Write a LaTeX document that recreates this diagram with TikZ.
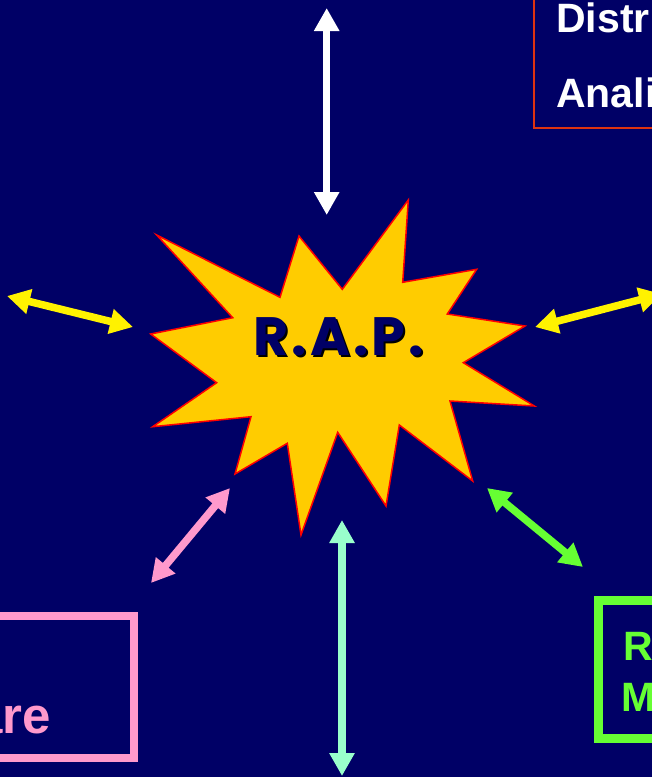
\documentclass[tikz,border=0pt]{standalone}
\usepackage{fontspec}
\setmainfont{Liberation Sans}
\newfontfamily\rapfont[LetterSpace=6]{Poppins}
\usetikzlibrary{arrows.meta}
\definecolor{navy}{RGB}{0,0,102}
\definecolor{starfill}{RGB}{255,204,0}
\definecolor{pinkline}{RGB}{255,153,204}
\definecolor{mintline}{RGB}{153,255,204}
\definecolor{greenline}{RGB}{102,255,51}
\definecolor{redbox}{RGB}{221,51,17}
\tikzset{
  link/.style={line width=7.5pt,{Triangle[width=24pt,length=23pt]}-{Triangle[width=24pt,length=23pt]}},
  label/.style={font=\bfseries\fontsize{41}{43}\selectfont,inner sep=0pt},
  raptext/.style={font=\rapfont\bfseries\fontsize{54}{56}\selectfont,inner sep=0pt}
}
\begin{document}
\begin{tikzpicture}[x=1pt,y=-1pt]
  \useasboundingbox (0,0) rectangle (652,777);
  \clip (0,0) rectangle (652,777);
  \fill[navy] (0,0) rectangle (652,777);

  % the star
  \draw[fill=starfill,draw=red,line width=1.5pt,line join=miter]
    (156.7,235) -- (280,297.3) -- (299,236) -- (342.3,289.3) -- (408.3,200)
    -- (402.7,282.3) -- (476.7,269.3) -- (447.3,314) -- (525,326)
    -- (463.3,362.7) -- (534.3,406) -- (450,401) -- (472.7,481)
    -- (399.3,425) -- (386,506) -- (337.7,432.3) -- (301,535)
    -- (287.3,443.3) -- (235,474) -- (251,416.7) -- (152.7,426.7)
    -- (216.7,382.7) -- (150.7,334) -- (232.7,317.7) -- cycle;
  \node[raptext,text=black,anchor=base] at (340.5,357) {R.A.P.};
  \node (rap) [raptext,text=navy,anchor=base] at (338.5,355) {R.A.P.};

  % boxes
  \draw[redbox,line width=2pt] (533.5,-10) rectangle (670,128);
  \node (distr) [label,text=white,anchor=base west] at (556,32) {Distr};
  \node (anali) [label,text=white,anchor=base west] at (556,107) {Anali};

  \draw[pinkline,line width=8pt] (-10,616) rectangle (134,758);
  \node (are) [label,text=pinkline,anchor=base east,font=\bfseries\fontsize{51}{53}\selectfont] at (51,733) {are};

  \draw[greenline,line width=9pt] (598.5,600.5) rectangle (670,738);
  \node (r) [label,text=greenline,anchor=base west] at (623,660) {R};
  \node (m) [label,text=greenline,anchor=base west] at (621,711) {M};

  % arrows
  \coordinate (top) at (326.7,8);
  \coordinate (topend) at (326.7,215);
  \coordinate (west) at (7,296);
  \coordinate (westend) at (133,327);
  \coordinate (east) at (535,327);
  \coordinate (eastend) at (662,294);
  \coordinate (sw) at (151,583);
  \coordinate (swend) at (230,488);
  \coordinate (south) at (342,776);
  \coordinate (southend) at (342,520);
  \coordinate (se) at (583,567);
  \coordinate (seend) at (487,488);

  \draw[link,white] (top) -- (topend);
  \draw[link,yellow] (west) -- (westend);
  \draw[link,yellow] (east) -- (eastend);
  \draw[link,pinkline] (sw) -- (swend);
  \draw[link,mintline] (south) -- (southend);
  \draw[link,greenline] (se) -- (seend);
\end{tikzpicture}
\end{document}
